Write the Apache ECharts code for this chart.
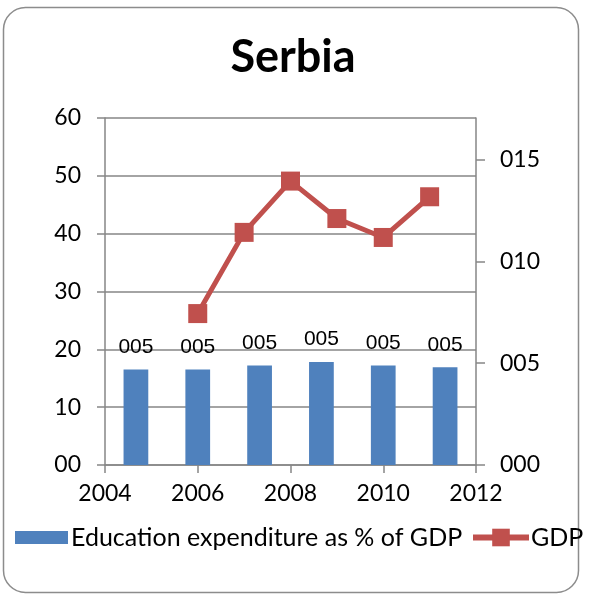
<!DOCTYPE html>
<html>
<head>
<meta charset="utf-8">
<script src="https://cdn.jsdelivr.net/npm/echarts@6/dist/echarts.min.js"></script>
<style>
html,body{margin:0;padding:0;background:#fff;}
#chart{width:594px;height:595px;}
</style>
</head>
<body>
<div id="chart"></div>
<script>
// ---- data ----
const titleText = 'Serbia';
const eduName = 'Education expenditure as % of GDP';
const gdpName = 'GDP';
const eduCategories = ['2006', '2007', '2008', '2009', '2010', '2011'];
const eduValues = [16.5, 16.5, 17.2, 17.8, 17.2, 16.9];
const eduLabels = ['005', '005', '005', '005', '005', '005'];
const gdpYears = [2006, 2007, 2008, 2009, 2010, 2011];
const gdpValues = [7.44, 11.43, 13.95, 12.11, 11.18, 13.18];
const rightTicks = [0, 5, 10, 15];

const font = 'Lato, Carlito, sans-serif';
const gridColor = '#868686';

const chart = echarts.init(document.getElementById('chart'));
chart.setOption({
  backgroundColor: '#ffffff',
  animation: false,
  graphic: [{
    type: 'rect',
    shape: {x: 3.5, y: 7.5, width: 575, height: 585, r: 22},
    style: {fill: 'none', stroke: '#8c8c8c', lineWidth: 1.5},
    silent: true, z: -10
  }],
  title: {
    text: titleText,
    left: 288, top: 30, textAlign: 'center',
    textStyle: {fontFamily: font, fontWeight: 'bold', fontSize: 45, color: '#000'}
  },
  legend: [{
    data: [{name: eduName, icon: 'rect'}],
    left: 15, top: 525, padding: 0,
    itemWidth: 53, itemHeight: 13, itemGap: 4,
    textStyle: {fontFamily: font, fontSize: 25, color: '#000', padding: [0, 0, 0, -2]}
  }, {
    data: [gdpName],
    left: 470, top: 525, padding: 0,
    itemWidth: 56, itemHeight: 22,
    lineStyle: {width: 6},
    textStyle: {fontFamily: font, fontSize: 25, color: '#000', padding: [0, 0, 0, -3]}
  }],
  grid: {left: 105, right: 118, top: 118, bottom: 130, containLabel: false},
  xAxis: [{
    type: 'value', min: 2004, max: 2012, interval: 2,
    axisLine: {show: true, lineStyle: {color: gridColor, width: 1.5}},
    axisTick: {show: true, length: 8, lineStyle: {color: gridColor, width: 1.5}},
    axisLabel: {fontFamily: font, fontSize: 23, color: '#000', margin: 17,
      formatter: v => String(v)},
    splitLine: {show: false}
  }, {
    type: 'category', data: eduCategories, show: false, boundaryGap: true
  }],
  yAxis: [{
    type: 'value', min: 0, max: 60, interval: 10,
    axisLine: {show: true, lineStyle: {color: gridColor, width: 1.5}},
    axisTick: {show: true, length: 8, lineStyle: {color: gridColor, width: 1.5}},
    axisLabel: {fontFamily: font, fontSize: 23, color: '#000', margin: 24,
      formatter: v => String(v).padStart(2, '0')},
    splitLine: {show: true, lineStyle: {color: gridColor, width: 1.5}}
  }, {
    type: 'value', min: 0, max: 17.05, position: 'right',
    axisLine: {show: true, lineStyle: {color: gridColor, width: 1.5}},
    axisTick: {show: true, length: 9, customValues: rightTicks, lineStyle: {color: gridColor, width: 1.5}},
    axisLabel: {fontFamily: font, fontSize: 23, color: '#000', margin: 24,
      customValues: rightTicks,
      formatter: v => String(Math.round(v)).padStart(3, '0')},
    splitLine: {show: false}
  }],
  series: [{
    name: eduName,
    type: 'bar',
    xAxisIndex: 1, yAxisIndex: 0,
    data: eduValues,
    barWidth: '40%',
    itemStyle: {color: '#4F81BD'},
    label: {
      show: true, position: 'top', distance: 12,
      fontFamily: 'Liberation Sans, Arial, sans-serif', fontSize: 21, color: '#000',
      formatter: p => eduLabels[p.dataIndex]
    },
    z: 2
  }, {
    name: gdpName,
    type: 'line',
    xAxisIndex: 0, yAxisIndex: 1,
    data: gdpYears.map((y, i) => [y, gdpValues[i]]),
    symbol: 'rect', symbolSize: 19,
    lineStyle: {color: '#C0504D', width: 5},
    itemStyle: {color: '#C0504D'},
    z: 3
  }]
});
</script>
</body>
</html>
